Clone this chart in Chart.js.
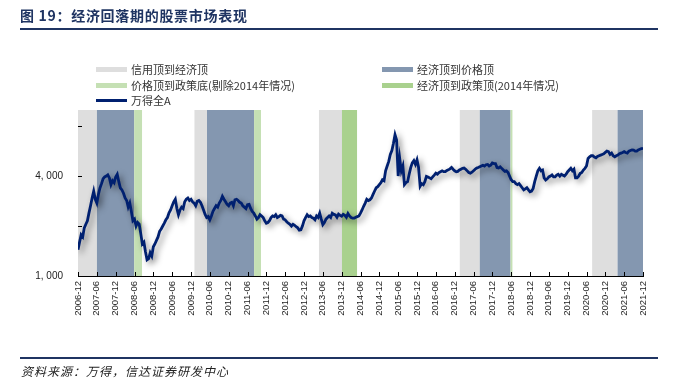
<!DOCTYPE html>
<html>
<head>
<meta charset="utf-8">
<script src="https://cdn.jsdelivr.net/npm/chart.js@4.4.1/dist/chart.umd.min.js"></script>
<style>
  body { margin: 0; width: 673px; height: 384px; background: #fff; position: relative; overflow: hidden; font-family: "Noto Sans CJK SC", sans-serif; }
  #wrap { position: absolute; left: 0; top: 0; width: 673px; height: 384px; }
  #title { position: absolute; left: 20px; top: 5px; font-size: 14px; font-weight: bold; color: #1f3462; letter-spacing: 0.7px; white-space: nowrap; }
  .rule { position: absolute; left: 20px; width: 638px; height: 2px; background: #1f3462; }
  .item { position: absolute; font-size: 11px; color: #333; line-height: 14px; white-space: nowrap; }
  .sw { position: absolute; left: -35px; top: 5px; width: 31px; height: 5px; }
  #source { position: absolute; left: 21px; top: 362px; font-size: 12px; font-style: italic; color: #222; letter-spacing: 1px; white-space: nowrap; }
</style>
</head>
<body>
<div id="wrap"><canvas id="chart" width="673" height="384"></canvas></div>
<div id="title">图 19：经济回落期的股票市场表现</div>
<div class="rule" style="top:28px"></div>
<div class="item" style="left:131px;top:62px"><span class="sw" style="background:#dedede"></span>信用顶到经济顶</div>
<div class="item" style="left:417px;top:62px"><span class="sw" style="background:#8497b0"></span>经济顶到价格顶</div>
<div class="item" style="left:131px;top:78px"><span class="sw" style="background:#c5e0b4"></span>价格顶到政策底(剔除2014年情况)</div>
<div class="item" style="left:417px;top:78px"><span class="sw" style="background:#a9d18e"></span>经济顶到政策顶(2014年情况)</div>
<div class="item" style="left:131px;top:93px"><span class="sw" style="background:#002070;height:3px;top:6px"></span>万得全A</div>
<div class="rule" style="top:357px"></div>
<div id="source">资料来源：万得，信达证券研发中心</div>
<script>
// 万得全A 半月点位，从 2006-12 起（每行一年，24 个点）
const windA = [
    1440, 1600,
    1770, 1720, 1950, 2050, 2150, 2400, 2650, 2950, 3240, 2900, 2750, 3100, 3390, 3600, 3850, 3950, 4000, 4070, 3900, 3550, 3750, 3650, 3950, 4100, // 2007
    3700, 3390, 3300, 3150, 2950, 2850, 2600, 2750, 2450, 2150, 2200, 2000, 2100, 2050, 1800, 1560, 1600, 1400, 1250, 1270, 1380, 1320, 1500, 1560, // 2008
    1640, 1720, 1860, 1920, 2000, 2080, 2180, 2250, 2400, 2500, 2650, 2800, 2900, 2550, 2340, 2500, 2600, 2550, 2800, 2900, 2950, 2850, 2900, 2800, // 2009
    2750, 2650, 2820, 2850, 2780, 2650, 2500, 2350, 2250, 2280, 2180, 2300, 2450, 2550, 2650, 2600, 2750, 2850, 3020, 2900, 2800, 2700, 2650, 2750, // 2010
    2780, 2650, 2880, 2900, 2850, 2780, 2750, 2650, 2600, 2550, 2690, 2700, 2550, 2450, 2390, 2300, 2200, 2250, 2340, 2300, 2250, 2150, 2080, 2100, // 2011
    2150, 2250, 2300, 2280, 2340, 2250, 2280, 2320, 2300, 2200, 2180, 2120, 2080, 2050, 2000, 2050, 2020, 1980, 1950, 1890, 1900, 2000, 2150, 2250, // 2012
    2340, 2280, 2300, 2250, 2230, 2180, 2300, 2250, 2390, 2200, 2040, 2100, 2200, 2250, 2300, 2250, 2390, 2350, 2330, 2260, 2360, 2320, 2290, 2350, // 2013
    2320, 2260, 2380, 2300, 2250, 2230, 2230, 2260, 2280, 2300, 2390, 2500, 2630, 2750, 2900, 2850, 2880, 2950, 3100, 3250, 3400, 3450, 3550, 3650, // 2014
    3800, 3750, 4300, 4600, 4900, 5400, 5700, 6300, 7100, 6600, 4000, 5100, 4300, 4600, 3550, 3650, 3700, 4100, 4500, 4800, 4950, 4700, 5010, 4500, // 2015
    3470, 3600, 3550, 3700, 3980, 3950, 3900, 3850, 3950, 4050, 4160, 4100, 4200, 4250, 4300, 4250, 4250, 4320, 4360, 4420, 4510, 4400, 4300, 4250, // 2016
    4270, 4350, 4400, 4450, 4470, 4400, 4300, 4200, 4160, 4220, 4300, 4400, 4470, 4500, 4550, 4600, 4650, 4600, 4680, 4700, 4600, 4650, 4790, 4750, // 2017
    4750, 4500, 4470, 4550, 4450, 4350, 4270, 4300, 4200, 4000, 3800, 3700, 3700, 3600, 3550, 3600, 3500, 3400, 3300, 3350, 3400, 3300, 3220, 3250, // 2018
    3370, 3700, 4000, 4300, 4450, 4300, 4350, 3900, 3790, 3850, 3950, 4000, 4060, 3950, 3950, 4050, 4100, 4000, 4100, 4050, 4000, 4100, 4250, 4350, // 2019
    4450, 4300, 4400, 3900, 3900, 4000, 4150, 4200, 4350, 4450, 4600, 5100, 5220, 5300, 5300, 5200, 5150, 5250, 5300, 5350, 5400, 5450, 5550, 5650, // 2020
    5610, 5400, 5500, 5300, 5220, 5300, 5350, 5450, 5500, 5550, 5610, 5550, 5500, 5650, 5700, 5750, 5730, 5650, 5650, 5750, 5800, 5850, 5880        // 2021
];

// 阶段区间
const creditBands = [["2006-12-01", "2007-06-02"], ["2010-01-04", "2010-05-04"], ["2013-04-24", "2013-12-04"], ["2017-01-20", "2017-08-01"], ["2020-07-25", "2021-03-28"]];
const econBands = [["2007-06-02", "2008-05-28"], ["2010-05-04", "2011-08-04"], ["2017-08-01", "2018-05-25"], ["2021-03-28", "2021-12-01"]];
const priceBands = [["2008-05-28", "2008-08-13"], ["2011-08-04", "2011-10-10"], ["2018-05-25", "2018-06-13"]];
const policyBands = [["2013-12-04", "2014-04-28"]];

const xTickLabels = [
    "2006-12", "2007-06", "2007-12", "2008-06", "2008-12", "2009-06", "2009-12", "2010-06",
    "2010-12", "2011-06", "2011-12", "2012-06", "2012-12", "2013-06", "2013-12", "2014-06",
    "2014-12", "2015-06", "2015-12", "2016-06", "2016-12", "2017-06", "2017-12", "2018-06",
    "2018-12", "2019-06", "2019-12", "2020-06", "2020-12", "2021-06", "2021-12"
];
const yTicks = [1000, 2000, 4000, 8000];
const yTickLabels = ["1, 000", "", "4, 000", ""];

// 日期 -> 距 2006-12 的月数
function monthIdx(s) {
    const [y, m, d] = s.split("-").map(Number);
    return (y - 2006) * 12 + (m - 12) + (d - 1) / 30;
}

const bandsPlugin = {
    id: "bands",
    beforeDatasetsDraw(chart) {
        const { ctx, chartArea: a, scales: { x } } = chart;
        const groups = [
            [creditBands, "#dedede"],
            [econBands, "#8497b0"],
            [priceBands, "#c5e0b4"],
            [policyBands, "#a9d18e"],
        ];
        ctx.save();
        groups.forEach(([bands, color]) => {
            ctx.fillStyle = color;
            bands.forEach(([s, e]) => {
                const x0 = x.getPixelForValue(monthIdx(s));
                const x1 = x.getPixelForValue(monthIdx(e));
                ctx.fillRect(x0, a.top, x1 - x0, a.bottom - a.top);
            });
        });
        ctx.restore();
    },
};

const shadowPlugin = {
    id: "lineShadow",
    beforeDatasetDraw(chart) {
        const c = chart.ctx;
        c.save();
        c.shadowColor = "rgba(0,0,0,0.45)";
        c.shadowBlur = 6;
        c.shadowOffsetX = 3;
        c.shadowOffsetY = 3;
    },
    afterDatasetDraw(chart) {
        chart.ctx.restore();
    },
};

// 刻度线朝内
const innerTicks = {
    id: "innerTicks",
    afterDraw(chart) {
        const { ctx, chartArea: a, scales: { x, y } } = chart;
        ctx.save();
        ctx.strokeStyle = "#000";
        ctx.lineWidth = 1;
        ctx.beginPath();
        x.ticks.forEach((t) => {
            const px = Math.round(x.getPixelForValue(t.value)) + 0.5;
            ctx.moveTo(px, a.bottom);
            ctx.lineTo(px, a.bottom - 4);
        });
        y.ticks.forEach((t) => {
            const py = Math.round(y.getPixelForValue(t.value)) + 0.5;
            ctx.moveTo(a.left, py);
            ctx.lineTo(a.left + 4, py);
        });
        ctx.stroke();
        ctx.restore();
    },
};

const ctx = document.getElementById("chart").getContext("2d");
new Chart(ctx, {
    type: "line",
    data: {
        datasets: [
            {
                label: "万得全A",
                data: windA.map((v, i) => ({ x: i / 2, y: v })),
                borderColor: "#002070",
                borderWidth: 2.8,
                pointRadius: 0,
                tension: 0,
            },
        ],
    },
    options: {
        responsive: false,
        animation: false,
        layout: { padding: { top: 110, right: 30, bottom: 58, left: 0 } },
        plugins: {
            legend: { display: false },
            tooltip: { enabled: false },
        },
        scales: {
            x: {
                type: "linear",
                min: 0,
                max: 180,
                afterBuildTicks: (scale) => {
                    scale.ticks = xTickLabels.map((_, i) => ({ value: i * 6 }));
                },
                afterFit: (scale) => { scale.height = 50; },
                grid: { display: false, drawTicks: false },
                border: { display: true, color: "#000", width: 1 },
                ticks: {
                    autoSkip: false,
                    maxRotation: 90,
                    minRotation: 90,
                    padding: 5,
                    color: "#222",
                    font: { family: "Liberation Sans", size: 9.5 },
                    callback: (v) => xTickLabels[Math.round(v / 6)],
                },
            },
            y: {
                type: "logarithmic",
                min: 1000,
                max: 10000,
                afterBuildTicks: (scale) => {
                    scale.ticks = yTicks.map((v) => ({ value: v }));
                },
                afterFit: (scale) => { scale.width = 78; },
                grid: { display: false, drawTicks: false },
                border: { display: true, color: "#000", width: 1 },
                ticks: {
                    autoSkip: false,
                    padding: 15,
                    color: "#222",
                    font: { family: "Liberation Sans", size: 10 },
                    callback: (v) => yTickLabels[yTicks.indexOf(v)],
                },
            },
        },
    },
    plugins: [bandsPlugin, shadowPlugin, innerTicks],
});
</script>
</body>
</html>
